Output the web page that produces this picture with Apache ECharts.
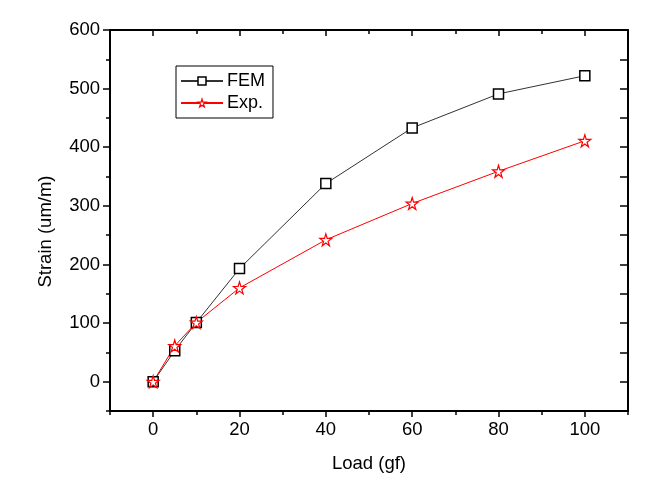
<!DOCTYPE html>
<html>
<head>
<meta charset="utf-8">
<script src="https://cdn.jsdelivr.net/npm/echarts@6/dist/echarts.min.js"></script>
<style>html,body{margin:0;padding:0;background:#fff}#c{width:668px;height:486px}</style>
</head>
<body>
<div id="c"></div>
<script>
var loads = [0, 5, 10, 20, 40, 60, 80, 100];
var femStrain = [0, 53, 101, 193, 338, 433, 491, 522];
var expStrain = [0, 61, 101, 160, 242, 304, 359, 411];
var xMajor = [0, 20, 40, 60, 80, 100];
var xMinor = [-10, 10, 30, 50, 70, 90, 110];
var yMajor = [0, 100, 200, 300, 400, 500, 600];
var yMinor = [-50, 50, 150, 250, 350, 450, 550];

var FONT = 'Liberation Sans, Arial, sans-serif';
var FS = 18.5;
var STAR = 'path://M50,0 L61,35 L98,35 L68,57 L79,91 L50,70 L21,91 L32,57 L2,35 L39,35 Z';

function pairs(xs, ys) { return xs.map(function (x, i) { return [x, ys[i]]; }); }

function ax(min, max, pos, ticks, len, inside, labels, line, margin, extra) {
  var a = {
    type: 'value', position: pos, min: min, max: max,
    splitLine: { show: false },
    axisLine: { show: line, onZero: false, lineStyle: { color: '#000', width: 2 } },
    axisTick: { show: true, customValues: ticks, length: len, inside: inside, lineStyle: { color: '#000', width: 1.5 } },
    axisLabel: labels ? { show: true, customValues: labels, color: '#000', fontFamily: FONT, fontSize: FS, margin: margin } : { show: false }
  };
  return Object.assign(a, extra || {});
}

var chart = echarts.init(document.getElementById('c'), null, { renderer: 'canvas' });
chart.setOption({
  animation: false,
  backgroundColor: '#fff',
  grid: { left: 110, right: 40, top: 30, bottom: 75 },
  legend: {
    left: 176, top: 66, orient: 'vertical',
    borderColor: '#000', borderWidth: 1, borderRadius: 0,
    padding: [6, 8, 6, 4], itemGap: 4, itemWidth: 42, itemHeight: 10,
    textStyle: { color: '#000', fontFamily: FONT, fontSize: 18, padding: [0, 0, 0, -1] },
    data: [
      { name: 'FEM', itemStyle: { color: '#fff', borderColor: '#000', borderWidth: 1.5 } },
      { name: 'Exp.', itemStyle: { color: '#fff', borderColor: '#ff0000', borderWidth: 1.2 } }
    ]
  },
  xAxis: [
    ax(-10, 110, 'bottom', xMajor, 6, false, xMajor, true, 9, {
      name: 'Load (gf)', nameLocation: 'middle', nameGap: 43,
      nameTextStyle: { color: '#000', fontFamily: FONT, fontSize: FS }
    }),
    ax(-10, 110, 'bottom', xMinor, 4, false, null, false, 0),
    ax(-10, 110, 'top', xMajor, 6, true, null, true, 0),
    ax(-10, 110, 'top', xMinor, 4, true, null, false, 0)
  ],
  yAxis: [
    ax(-50, 600, 'left', yMajor, 7, false, yMajor, true, 10, {
      name: 'Strain (um/m)', nameLocation: 'middle', nameGap: 55,
      nameTextStyle: { color: '#000', fontFamily: FONT, fontSize: FS, padding: [0, 22, 0, 0] }
    }),
    ax(-50, 600, 'left', yMinor, 4, false, null, false, 0),
    ax(-50, 600, 'right', yMajor, 8, true, null, true, 0),
    ax(-50, 600, 'right', yMinor, 8, true, null, false, 0)
  ],
  series: [
    {
      name: 'FEM', type: 'line', xAxisIndex: 0, yAxisIndex: 0,
      data: pairs(loads, femStrain),
      symbol: 'rect', symbolSize: 10,
      lineStyle: { color: '#333', width: 1 },
      itemStyle: { color: '#fff', borderColor: '#000', borderWidth: 1.5 }
    },
    {
      name: 'Exp.', type: 'line', xAxisIndex: 0, yAxisIndex: 0,
      data: pairs(loads, expStrain),
      symbol: STAR, symbolSize: 12,
      lineStyle: { color: '#ff0000', width: 1 },
      itemStyle: { color: '#fff', borderColor: '#ff0000', borderWidth: 1.2 }
    }
  ]
});
</script>
</body>
</html>
